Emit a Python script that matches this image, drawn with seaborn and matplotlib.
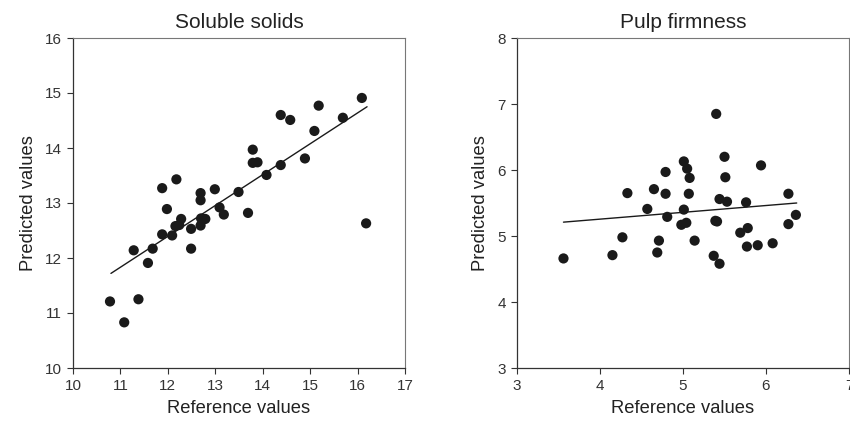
import matplotlib
matplotlib.use("Agg")
import matplotlib.pyplot as plt
import seaborn as sns
import numpy as np
import pandas as pd

# Soluble solids data
ss_ref = [10.78, 11.08, 11.38, 11.28, 11.58, 11.68, 11.88, 11.88, 11.98, 12.09,
          12.18, 12.16, 12.28, 12.24, 12.49, 12.49, 12.69, 12.69, 12.69, 12.70,
          12.79, 12.99, 13.09, 13.18, 13.49, 13.69, 13.79, 13.79, 13.89, 14.08,
          14.38, 14.38, 14.58, 14.89, 15.09, 15.18, 15.69, 16.09, 16.18]
ss_pred = [11.21, 10.83, 11.25, 12.14, 11.91, 12.17, 12.43, 13.27, 12.89, 12.41,
           13.43, 12.58, 12.71, 12.60, 12.53, 12.17, 13.18, 13.05, 12.59, 12.72,
           12.71, 13.25, 12.92, 12.79, 13.20, 12.82, 13.97, 13.73, 13.74, 13.51,
           13.69, 14.60, 14.51, 13.81, 14.31, 14.77, 14.55, 14.91, 12.63]
ss_line_x = [10.8, 16.2]
ss_line_y = [11.72, 14.75]

# Pulp firmness data
pf_ref = [3.56, 4.15, 4.27, 4.33, 4.57, 4.65, 4.69, 4.71, 4.79, 4.79,
          4.81, 4.98, 5.04, 5.01, 5.05, 5.08, 5.07, 5.01, 5.14, 5.37,
          5.44, 5.39, 5.41, 5.40, 5.50, 5.51, 5.44, 5.53, 5.69, 5.78,
          5.76, 5.77, 5.90, 5.94, 6.08, 6.27, 6.27, 6.36]
pf_pred = [4.66, 4.71, 4.98, 5.65, 5.41, 5.71, 4.75, 4.93, 5.97, 5.64,
           5.29, 5.17, 5.20, 6.13, 6.02, 5.88, 5.64, 5.40, 4.93, 4.70,
           4.58, 5.23, 5.22, 6.85, 6.20, 5.89, 5.56, 5.52, 5.05, 5.12,
           5.51, 4.84, 4.86, 6.07, 4.89, 5.64, 5.18, 5.32]
pf_line_x = [3.56, 6.37]
pf_line_y = [5.21, 5.50]

panels = [
    dict(title="Soluble solids", x=ss_ref, y=ss_pred, lx=ss_line_x, ly=ss_line_y,
         xlim=(10, 17), ylim=(10, 16), xticks=range(10, 18), yticks=range(10, 17)),
    dict(title="Pulp firmness", x=pf_ref, y=pf_pred, lx=pf_line_x, ly=pf_line_y,
         xlim=(3, 7), ylim=(3, 8), xticks=range(3, 8), yticks=range(3, 9)),
]

sns.set_style("white")
plt.rcParams['font.family'] = ['Liberation Sans', 'DejaVu Sans']

fig = plt.figure(figsize=(8.5, 4.22), dpi=100)
W, H = 850, 422
rects = [(73, 54, 332, 330), (517, 54, 332, 330)]

for p, (l, b, w, h) in zip(panels, rects):
    ax = fig.add_axes([l / W, b / H, w / W, h / H])
    df = pd.DataFrame({"ref": p["x"], "pred": p["y"]})
    sns.scatterplot(data=df, x="ref", y="pred", ax=ax, color="#1a1a1a",
                    s=54, edgecolor="none", linewidth=0, zorder=3)
    dl = pd.DataFrame({"x": p["lx"], "y": p["ly"]})
    sns.lineplot(data=dl, x="x", y="y", ax=ax, color="#1a1a1a", lw=1.0)
    ax.set_xlim(*p["xlim"])
    ax.set_ylim(*p["ylim"])
    ax.set_xticks(list(p["xticks"]))
    ax.set_yticks(list(p["yticks"]))
    ax.set_title(p["title"], fontsize=15, pad=7, color="#222222")
    ax.set_xlabel("Reference values", fontsize=13.2, color="#222222", labelpad=5)
    ax.set_ylabel("Predicted values", fontsize=13.2, color="#222222", labelpad=6)
    ax.tick_params(axis="both", direction="out", length=4, width=0.8,
                   labelsize=11, colors="#333333", pad=4,
                   bottom=True, left=True)
    for side in ["left", "bottom"]:
        ax.spines[side].set_color("#333333")
        ax.spines[side].set_linewidth(0.9)
    for side in ["top", "right"]:
        ax.spines[side].set_color("#777777")
        ax.spines[side].set_linewidth(0.8)

fig.savefig("out.png", dpi=100)
